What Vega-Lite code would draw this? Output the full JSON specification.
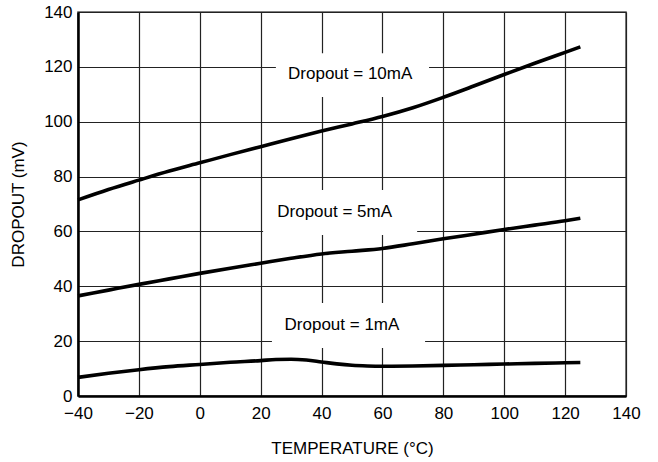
{
  "$schema": "https://vega.github.io/schema/vega-lite/v6.json",
  "width": 548,
  "height": 384,
  "autosize": {"type": "none"},
  "padding": {"left": 78, "top": 12, "right": 32, "bottom": 66},
  "background": "white",
  "config": {
    "view": {"stroke": "#555555", "strokeWidth": 1.5},
    "font": "Liberation Sans",
    "axis": {
      "labelFont": "Liberation Sans",
      "titleFont": "Liberation Sans",
      "labelFontSize": 17,
      "titleFontSize": 17,
      "labelColor": "black",
      "titleColor": "black",
      "titleFontWeight": "normal",
      "ticks": false,
      "tickSize": 0,
      "labelFlush": false,
      "labelOverlap": false,
      "domainColor": "black",
      "domainWidth": 2.5,
      "grid": true,
      "gridColor": "#222222",
      "gridWidth": 1.2,
      "gridOpacity": 1
    }
  },
  "datasets": {
    "curves": [
      {"current": "10mA", "temp": -40, "dropout": 71.5},
      {"current": "10mA", "temp": -30, "dropout": 75.3},
      {"current": "10mA", "temp": -20, "dropout": 78.7},
      {"current": "10mA", "temp": -10, "dropout": 82.0},
      {"current": "10mA", "temp": 0, "dropout": 85.0},
      {"current": "10mA", "temp": 10, "dropout": 88.0},
      {"current": "10mA", "temp": 20, "dropout": 90.9},
      {"current": "10mA", "temp": 30, "dropout": 93.8},
      {"current": "10mA", "temp": 40, "dropout": 96.6},
      {"current": "10mA", "temp": 50, "dropout": 99.2},
      {"current": "10mA", "temp": 60, "dropout": 101.9},
      {"current": "10mA", "temp": 70, "dropout": 105.1},
      {"current": "10mA", "temp": 80, "dropout": 108.9},
      {"current": "10mA", "temp": 90, "dropout": 113.0},
      {"current": "10mA", "temp": 100, "dropout": 117.2},
      {"current": "10mA", "temp": 110, "dropout": 121.3},
      {"current": "10mA", "temp": 120, "dropout": 125.3},
      {"current": "10mA", "temp": 125, "dropout": 127.3},
      {"current": "5mA", "temp": -40, "dropout": 36.5},
      {"current": "5mA", "temp": -30, "dropout": 38.6},
      {"current": "5mA", "temp": -20, "dropout": 40.7},
      {"current": "5mA", "temp": -10, "dropout": 42.7},
      {"current": "5mA", "temp": 0, "dropout": 44.7},
      {"current": "5mA", "temp": 10, "dropout": 46.6},
      {"current": "5mA", "temp": 20, "dropout": 48.4},
      {"current": "5mA", "temp": 30, "dropout": 50.2},
      {"current": "5mA", "temp": 40, "dropout": 51.8},
      {"current": "5mA", "temp": 50, "dropout": 52.8},
      {"current": "5mA", "temp": 60, "dropout": 53.8},
      {"current": "5mA", "temp": 70, "dropout": 55.5},
      {"current": "5mA", "temp": 80, "dropout": 57.3},
      {"current": "5mA", "temp": 90, "dropout": 59.0},
      {"current": "5mA", "temp": 100, "dropout": 60.7},
      {"current": "5mA", "temp": 110, "dropout": 62.3},
      {"current": "5mA", "temp": 120, "dropout": 63.9},
      {"current": "5mA", "temp": 125, "dropout": 64.8},
      {"current": "1mA", "temp": -40, "dropout": 6.8},
      {"current": "1mA", "temp": -30, "dropout": 8.3},
      {"current": "1mA", "temp": -20, "dropout": 9.6},
      {"current": "1mA", "temp": -10, "dropout": 10.7},
      {"current": "1mA", "temp": 0, "dropout": 11.5},
      {"current": "1mA", "temp": 10, "dropout": 12.3},
      {"current": "1mA", "temp": 20, "dropout": 12.9},
      {"current": "1mA", "temp": 25, "dropout": 13.3},
      {"current": "1mA", "temp": 30, "dropout": 13.4},
      {"current": "1mA", "temp": 35, "dropout": 13.1},
      {"current": "1mA", "temp": 40, "dropout": 12.4},
      {"current": "1mA", "temp": 45, "dropout": 11.7},
      {"current": "1mA", "temp": 50, "dropout": 11.2},
      {"current": "1mA", "temp": 55, "dropout": 10.95},
      {"current": "1mA", "temp": 60, "dropout": 10.85},
      {"current": "1mA", "temp": 70, "dropout": 10.95},
      {"current": "1mA", "temp": 80, "dropout": 11.15},
      {"current": "1mA", "temp": 90, "dropout": 11.4},
      {"current": "1mA", "temp": 100, "dropout": 11.65},
      {"current": "1mA", "temp": 110, "dropout": 11.9},
      {"current": "1mA", "temp": 120, "dropout": 12.1},
      {"current": "1mA", "temp": 125, "dropout": 12.2}
    ],
    "labels": [
      {"text": "Dropout = 10mA", "tx": 49.4, "ty": 117.3, "x1": 25.0, "x2": 75.3, "y1": 109.0, "y2": 125.0},
      {"text": "Dropout = 5mA", "tx": 44.3, "ty": 67.0, "x1": 20.8, "x2": 71.4, "y1": 58.7, "y2": 75.1},
      {"text": "Dropout = 1mA", "tx": 46.7, "ty": 25.9, "x1": 23.7, "x2": 74.0, "y1": 17.5, "y2": 33.9}
    ]
  },
  "layer": [
    {
      "data": {"name": "labels"},
      "mark": {"type": "rect", "fill": "white", "stroke": null},
      "encoding": {
        "x": {"field": "x1", "type": "quantitative", "scale": {"domain": [-40, 140], "nice": false}},
        "x2": {"field": "x2"},
        "y": {"field": "y1", "type": "quantitative", "scale": {"domain": [0, 140], "nice": false}},
        "y2": {"field": "y2"}
      }
    },
    {
      "data": {"name": "curves"},
      "mark": {"type": "line", "strokeWidth": 3.6, "interpolate": "monotone", "strokeCap": "butt"},
      "encoding": {
        "x": {
          "field": "temp", "type": "quantitative",
          "scale": {"domain": [-40, 140], "nice": false},
          "axis": {"values": [-40, -20, 0, 20, 40, 60, 80, 100, 120, 140], "title": "TEMPERATURE (°C)", "labelPadding": 9.5, "titlePadding": 19}
        },
        "y": {
          "field": "dropout", "type": "quantitative",
          "scale": {"domain": [0, 140], "nice": false},
          "axis": {"values": [0, 20, 40, 60, 80, 100, 120, 140], "title": "DROPOUT (mV)", "labelPadding": 6, "titlePadding": 16}
        },
        "detail": {"field": "current"},
        "color": {"value": "black"}
      }
    },
    {
      "data": {"name": "labels"},
      "mark": {"type": "text", "font": "Liberation Sans", "fontSize": 17, "color": "black", "align": "center", "baseline": "middle"},
      "encoding": {
        "x": {"field": "tx", "type": "quantitative"},
        "y": {"field": "ty", "type": "quantitative"},
        "text": {"field": "text"}
      }
    }
  ]
}
